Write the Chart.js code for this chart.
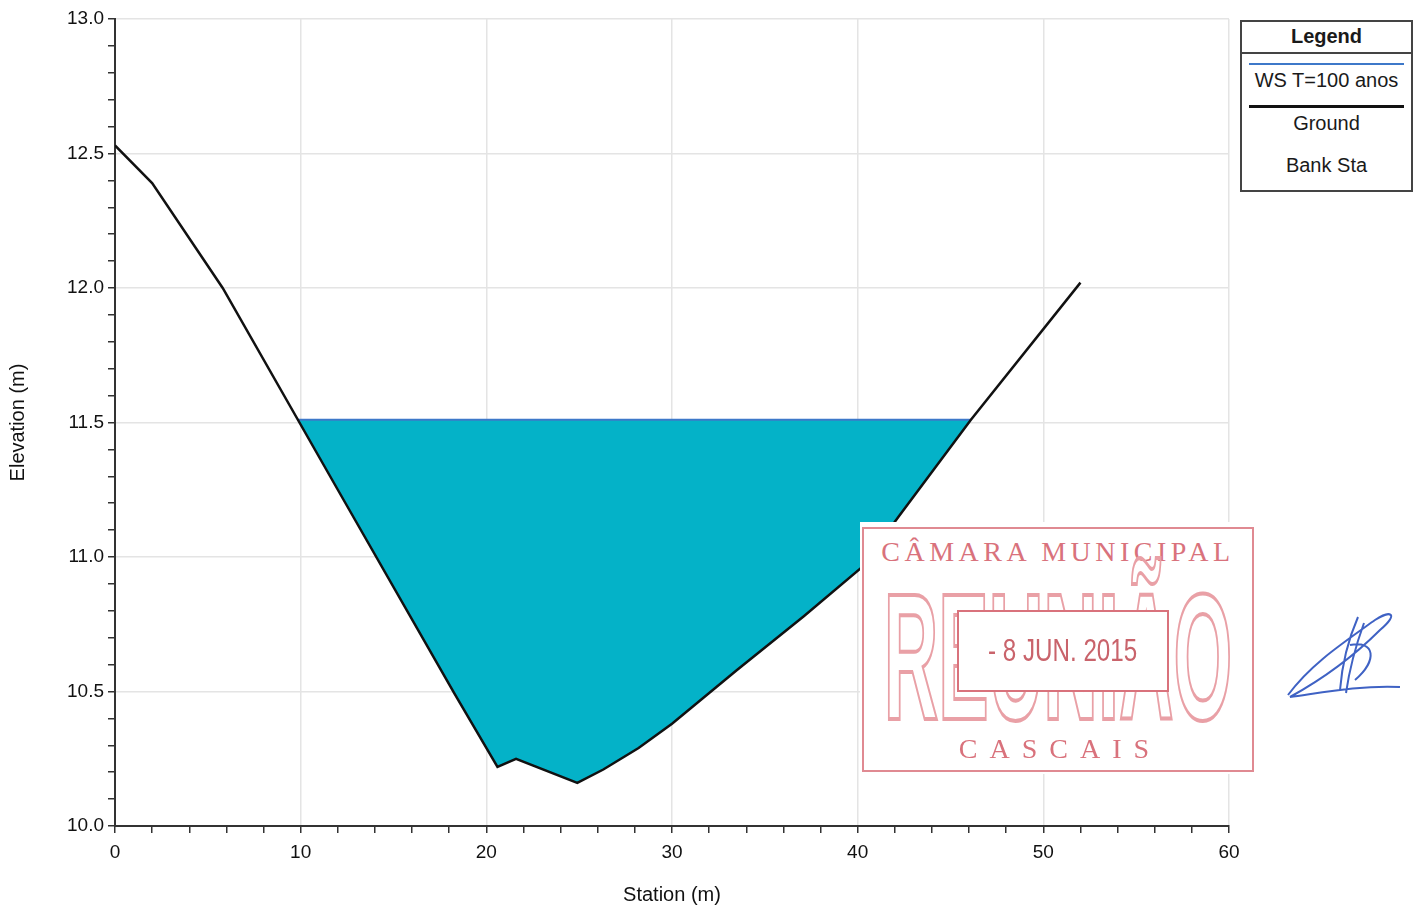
<!DOCTYPE html>
<html>
<head>
<meta charset="utf-8">
<script src="https://cdn.jsdelivr.net/npm/chart.js@4.4.0/dist/chart.umd.min.js"></script>
<style>
  body { margin: 0; background: #fff; font-family: 'Liberation Sans', Arial, sans-serif; }
  #wrap { position: relative; width: 1422px; height: 908px; overflow: hidden; }
  #legend {
    position: absolute; left: 1240px; top: 20px; width: 169px; height: 168px;
    border: 2px solid #444; background: #fff; color: #1a1a1a; font-size: 20px;
  }
  #legend .head { height: 30px; line-height: 28px; text-align: center; font-weight: bold; border-bottom: 2px solid #444; }
  #legend .item { text-align: center; }
  #legend .sym { margin: 0 7px; }
  .stamp {
    position: absolute; left: 860px; top: 522px; width: 396px; height: 252px; background: #fff;
    color: #d9727c;
  }
  .stamp .frame { position: absolute; left: 2px; top: 5px; right: 2px; bottom: 2px; border: 2px solid #e08a92; }
  .stamp .top { position: absolute; left: 0; top: 14px; width: 396px; text-align: center;
    font-family: 'Liberation Serif', serif; font-size: 28px; letter-spacing: 4.5px; white-space: nowrap; }
  .stamp .big { position: absolute; left: -302px; top: 45px; width: 1000px; text-align: center;
    font-family: 'Liberation Sans', Arial, sans-serif; font-weight: bold; font-size: 180px; line-height: 180px;
    color: transparent; -webkit-text-stroke: 4px #e9a0a6;
    transform: scaleX(0.42); transform-origin: center; white-space: nowrap; }
  .stamp .date { position: absolute; left: 97px; top: 88px; width: 208px; height: 78px; background: #fff;
    border: 2px solid #d9727c; text-align: center; line-height: 78px; white-space: nowrap;
    font-family: 'Liberation Sans', Arial, sans-serif; font-size: 31px; color: #c9636b; }
  .stamp .date span { display: inline-block; transform: scaleX(0.78); }
  .stamp .bottom { position: absolute; left: 0; top: 211px; width: 400px; text-align: center;
    font-family: 'Liberation Serif', serif; font-size: 28px; letter-spacing: 12px; }
</style>
</head>
<body>
<div id="wrap">
  <canvas id="chart" width="1422" height="908"></canvas>
  <div id="legend"></div>
  <div class="stamp">
    <div class="frame"></div>
    <div class="top">CÂMARA MUNICIPAL</div>
    <div class="big">REUNIÃO</div>
    <div class="date"><span>- 8 JUN. 2015</span></div>
    <div class="bottom">CASCAIS</div>
  </div>
  <svg style="position:absolute;left:1280px;top:605px" width="130" height="100">
    <path d="M8 90 C 30 60, 60 40, 95 15 C 110 5, 120 8, 100 25 C 80 45, 50 70, 10 92 C 40 88, 80 80, 120 82
             M60 85 C 62 60, 68 35, 78 12 M66 88 C 70 60, 76 40, 84 18 M70 40 C 95 35, 98 55, 75 75"
          fill="none" stroke="#3f62c4" stroke-width="2"/>
  </svg>
</div>
<script>
// cross-section data
const groundStation = [0, 2.0, 5.8, 12.0, 18.3, 20.6, 21.6, 24.9, 26.3, 28.2, 30.0, 33.5, 37.1, 40.2, 42.2, 46.1, 52.0];
const groundElev    = [12.53, 12.39, 12.0, 11.25, 10.49, 10.22, 10.25, 10.16, 10.21, 10.29, 10.38, 10.58, 10.78, 10.96, 11.15, 11.51, 12.02];

const wsStation = [9.85, 46.1];
const wsElev    = [11.51, 11.51];

const seriesNames = ['WS T=100 anos', 'Ground', 'Bank Sta'];
const seriesColors = ['#3d78c9', '#111111', null];
const seriesWidths = [2, 3, 0];

const xTickMajor = [0, 10, 20, 30, 40, 50, 60];
const yTickMajor = [10.0, 10.5, 11.0, 11.5, 12.0, 12.5, 13.0];

const waterFill = '#04b2c8';

const toPoints = (xs, ys) => xs.map((x, i) => ({ x: x, y: ys[i] }));
const isMajor = (v, list) => list.some(m => Math.abs(m - v) < 1e-6);

const axisFont = { family: "'Liberation Sans', Arial, sans-serif", size: 19 };
const titleFont = { family: "'Liberation Sans', Arial, sans-serif", size: 20 };

new Chart(document.getElementById('chart'), {
  type: 'line',
  data: {
    datasets: [
      {
        label: seriesNames[1],
        data: toPoints(groundStation, groundElev),
        borderColor: seriesColors[1],
        borderWidth: 2.5,
        pointRadius: 0,
        fill: false,
        order: 0
      },
      {
        label: seriesNames[0],
        data: toPoints(wsStation, wsElev),
        borderColor: seriesColors[0],
        borderWidth: 2,
        backgroundColor: waterFill,
        pointRadius: 0,
        fill: 0,
        order: 1
      }
    ]
  },
  options: {
    responsive: false,
    animation: false,
    layout: { padding: { top: 19, right: 193, bottom: 0, left: 0 } },
    plugins: { legend: { display: false }, tooltip: { enabled: false } },
    scales: {
      x: {
        type: 'linear',
        min: 0,
        max: 60,
        ticks: {
          stepSize: 2,
          autoSkip: false,
          maxRotation: 0,
          padding: 8,
          color: '#111',
          font: axisFont,
          callback: v => isMajor(v, xTickMajor) ? String(v) : ''
        },
        grid: {
          color: c => isMajor(c.tick.value, xTickMajor) ? '#e4e4e4' : 'rgba(0,0,0,0)',
          lineWidth: 1.5,
          tickColor: '#333',
          tickLength: 7,
          tickWidth: 1.5
        },
        border: { color: '#333', width: 2 },
        title: { display: true, text: 'Station (m)', color: '#111', font: titleFont, padding: { top: 4, bottom: 1 } },
        afterFit: s => { s.height = 82; }
      },
      y: {
        min: 10,
        max: 13,
        ticks: {
          stepSize: 0.1,
          autoSkip: false,
          padding: 4,
          color: '#111',
          font: axisFont,
          callback: v => isMajor(v, yTickMajor) ? v.toFixed(1) : ''
        },
        grid: {
          color: c => isMajor(c.tick.value, yTickMajor) ? '#e4e4e4' : 'rgba(0,0,0,0)',
          lineWidth: 1.5,
          tickColor: '#333',
          tickLength: 7,
          tickWidth: 1.5
        },
        border: { color: '#333', width: 2 },
        title: { display: true, text: 'Elevation (m)', color: '#111', font: titleFont, padding: { top: 6, bottom: 0 } },
        afterFit: s => { s.width = 115; }
      }
    }
  }
});

// legend box: symbol line above each name, like the original
const symHeights = [9, 10, 12];
const legend = document.getElementById('legend');
let html = '<div class="head">Legend</div>';
seriesNames.forEach((name, i) => {
  const col = seriesColors[i];
  html += '<div class="item">' +
    '<div class="sym" style="height:' + symHeights[i] + 'px;border-bottom:' +
    (col ? seriesWidths[i] + 'px solid ' + col : '0') + '"></div>' +
    '<div style="height:30px;line-height:30px">' + name + '</div></div>';
});
legend.innerHTML = html;
</script>
</body>
</html>
